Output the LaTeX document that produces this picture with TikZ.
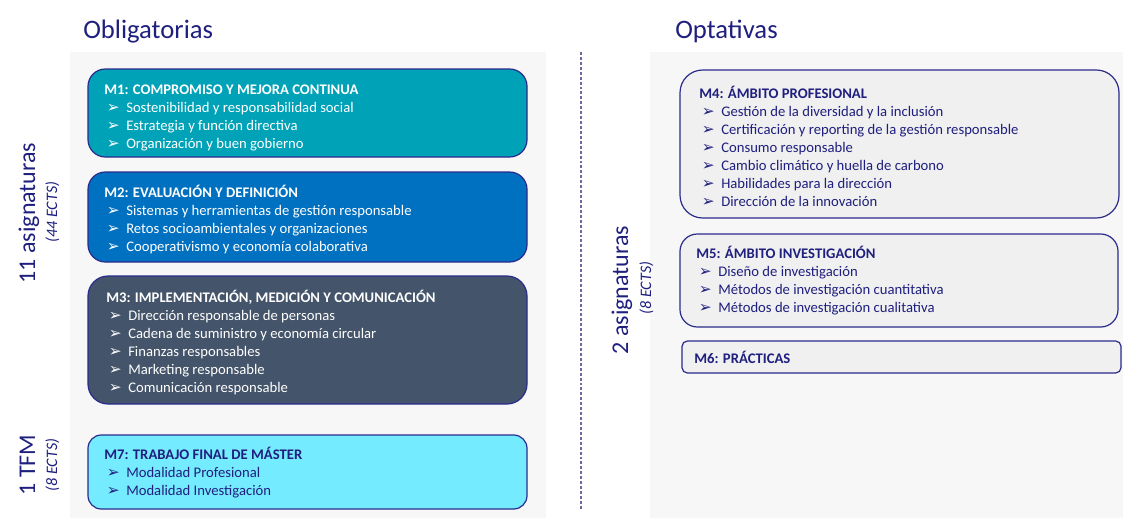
\documentclass[tikz,border=0pt]{standalone}
\usepackage{fontspec}
\setmainfont{Carlito}
\newfontfamily\symfont{DejaVu Sans}
\usetikzlibrary{fit}
\definecolor{navy}{HTML}{1F1F7F}
\definecolor{edgec}{HTML}{2B2B8C}
\definecolor{mone}{HTML}{00A2B8}
\definecolor{mtwo}{HTML}{0070C0}
\definecolor{mthree}{HTML}{44546A}
\definecolor{mseven}{HTML}{75EBFF}
\definecolor{optfill}{HTML}{F0F0F0}
\definecolor{panelc}{HTML}{F7F7F7}
\definecolor{sepc}{HTML}{6A6AA0}
\newcommand\bul{{\symfont\fontsize{11.5}{11.5}\selectfont ➢}}
\newcommand\itm[1]{\\\makebox[16.5pt][l]{\hspace{2pt}\bul}#1}
\newcommand\modlist[2]{\parbox[t]{330pt}{\raggedright\fontsize{11}{13.5}\selectfont\textbf{#1}#2}}
\tikzset{
  modbox/.style={draw=edgec, line width=0.9pt, inner sep=0pt, rounded corners=#1},
  modtext/.style={anchor=base west, inner sep=0pt},
  panelbox/.style={fill=panelc, draw=none, inner sep=0pt},
  heading/.style={anchor=base west, inner sep=0pt, text=navy, font=\fontsize{20}{24}\selectfont},
  bigside/.style={anchor=base, rotate=90, inner sep=0pt, text=navy, font=\fontsize{18}{21}\selectfont},
  smallside/.style={anchor=base, rotate=90, inner sep=0pt, text=navy, font=\fontsize{12}{14}\selectfont\itshape},
}
\begin{document}
\begin{tikzpicture}[x=0.75pt, y=-0.75pt]
\useasboundingbox (0,0) rectangle (1123,518);
\fill[white] (0,0) rectangle (1123,518);
% panels
\node[panelbox, fit={(70,52) (546,518)}] (lpanel) {};
\node[panelbox, fit={(650,52) (1123,518)}] (rpanel) {};
% separator
\coordinate (septop) at (581,52);
\coordinate (sepbot) at (581,509);
\draw[sepc, line width=0.8pt, dash pattern=on 2.2pt off 1.5pt] (septop) -- (sepbot);
% headings
\node[heading] (hobl) at (83,38) {Obligatorias};
\node[heading] (hopt) at (675,38) {Optativas};
% side labels
\node[bigside] (s11) at (35,213) {11 asignaturas};
\node[smallside] (s44) at (57,212) {(44 ECTS)};
\node[bigside] (stfm) at (35,465) {1 TFM};
\node[smallside] (s8a) at (57,465) {(8 ECTS)};
\node[bigside] (s2) at (628,290) {2 asignaturas};
\node[smallside] (s8b) at (651,288) {(8 ECTS)};
% M1
\node[modbox=13pt, fill=mone, fit={(88,69) (527,157)}] (m1) {};
\node[modtext, text=white] (m1t) at (104,94) {\modlist{M1: COMPROMISO Y MEJORA CONTINUA}{%
\itm{Sostenibilidad y responsabilidad social}%
\itm{Estrategia y función directiva}%
\itm{Organización y buen gobierno}}};
% M2
\node[modbox=13pt, fill=mtwo, fit={(88,172) (527,262)}] (m2) {};
\node[modtext, text=white] (m2t) at (104,197) {\modlist{M2: EVALUACIÓN Y DEFINICIÓN}{%
\itm{Sistemas y herramientas de gestión responsable}%
\itm{Retos socioambientales y organizaciones}%
\itm{Cooperativismo y economía colaborativa}}};
% M3
\node[modbox=15pt, fill=mthree, fit={(88,276) (527,404)}] (m3) {};
\node[modtext, text=white] (m3t) at (106,302) {\modlist{M3: IMPLEMENTACIÓN, MEDICIÓN Y COMUNICACIÓN}{%
\itm{Dirección responsable de personas}%
\itm{Cadena de suministro y economía circular}%
\itm{Finanzas responsables}%
\itm{Marketing responsable}%
\itm{Comunicación responsable}}};
% M7
\node[modbox=10pt, fill=mseven, fit={(88,435) (527,509)}] (m7) {};
\node[modtext, text=navy] (m7t) at (104,459) {\modlist{M7: TRABAJO FINAL DE MÁSTER}{%
\itm{Modalidad Profesional}%
\itm{Modalidad Investigación}}};
% M4
\node[modbox=17pt, fill=optfill, fit={(680,70) (1119,218)}] (m4) {};
\node[modtext, text=navy] (m4t) at (699,98) {\modlist{M4: ÁMBITO PROFESIONAL}{%
\itm{Gestión de la diversidad y la inclusión}%
\itm{Certificación y reporting de la gestión responsable}%
\itm{Consumo responsable}%
\itm{Cambio climático y huella de carbono}%
\itm{Habilidades para la dirección}%
\itm{Dirección de la innovación}}};
% M5
\node[modbox=13pt, fill=optfill, fit={(680,234) (1118,327)}] (m5) {};
\node[modtext, text=navy] (m5t) at (696,258) {\modlist{M5: ÁMBITO INVESTIGACIÓN}{%
\itm{Diseño de investigación}%
\itm{Métodos de investigación cuantitativa}%
\itm{Métodos de investigación cualitativa}}};
% M6
\node[modbox=4pt, fill=optfill, fit={(682,341) (1121,373)}] (m6) {};
\node[modtext, text=navy] (m6t) at (694,363) {\modlist{M6: PRÁCTICAS}{}};
\end{tikzpicture}
\end{document}
